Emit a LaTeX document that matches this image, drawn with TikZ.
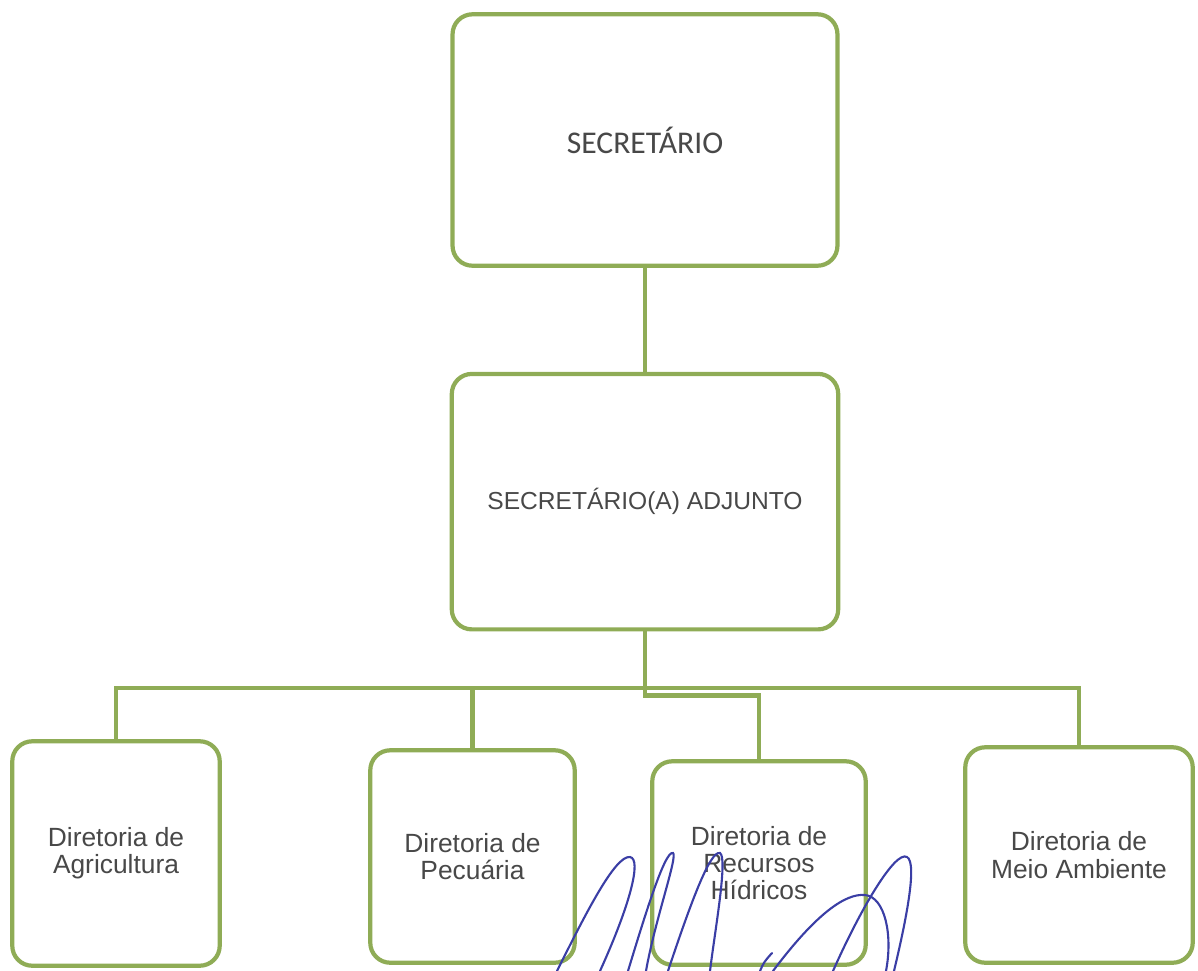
\documentclass[tikz,border=0pt]{standalone}
\usepackage{fontspec}
\setmainfont{Liberation Sans}
\newfontfamily\calibrifont{Carlito}
\usetikzlibrary{positioning}
\definecolor{boxgreen}{RGB}{143,172,86}
\definecolor{textgray}{RGB}{72,72,72}
\definecolor{inkblue}{RGB}{58,62,165}
\tikzset{
  box/.style={draw=boxgreen, line width=2.4pt, rounded corners=0.4cm, align=center, text=textgray, inner sep=4pt, font=\fontsize{15}{15.5}\selectfont},
  link/.style={draw=boxgreen, line width=2.4pt},
  ink/.style={draw=inkblue, line width=1.2pt, line cap=round},
}

\begin{document}
\begin{tikzpicture}[x=0.02cm, y=-0.02cm]
  \useasboundingbox (0,0) rectangle (1198,971);

  % top
  \node[box, minimum width=7.7cm, minimum height=5.03cm, font=\calibrifont\fontsize{18}{20}\selectfont] (sec) at (645,140) {SECRETÁRIO};
  \node[box, below=2.08cm of sec, minimum width=7.73cm, minimum height=5.11cm, font=\fontsize{14}{15.5}\selectfont] (adj) {SECRETÁRIO(A) ADJUNTO};
  \draw[link] (sec) -- (adj);

  % diretorias
  \node[box, minimum width=4.15cm, minimum height=4.49cm] (agr) at (116,853.5) {Diretoria de\\Agricultura};
  \node[box, minimum width=4.09cm, minimum height=4.25cm] (pec) at (472.5,856.5) {Diretoria de\\Pecuária};
  \node[box, minimum width=4.27cm, minimum height=4.07cm] (rec) at (759,863) {Diretoria de\\Recursos\\Hídricos};
  \node[box, minimum width=4.55cm, minimum height=4.31cm] (mei) at (1079,855) {Diretoria de\\Meio Ambiente};

  \coordinate (bus) at (0,688);
  \draw[link] (agr.north) -- (agr.north |- bus) -- (mei.north |- bus) -- (mei.north);
  \draw[link] (pec.north) -- (pec.north |- bus);
  \draw[link] (adj.south) -- ++(0,64) -| (rec.north);

  % assinatura
  \draw[ink] (557,971) .. controls (585,915) and (615,855) .. (630,857) .. controls (642,859) and (630,905) .. (600,971);
  \draw[ink] (628,971) .. controls (645,915) and (665,850) .. (673,853) .. controls (678,856) and (655,920) .. (646,971);
  \draw[ink] (668,971) .. controls (690,905) and (710,850) .. (720,853) .. controls (728,858) and (715,930) .. (710,971);
  \draw[ink] (773,971) .. controls (815,915) and (845,893) .. (865,895) .. controls (885,897) and (893,935) .. (886,971);
  \draw[ink] (833,971) .. controls (860,910) and (895,850) .. (907,857) .. controls (918,863) and (905,925) .. (894,971);
  \draw[ink] (760,971) .. controls (764,962) .. (772,953);
\end{tikzpicture}
\end{document}
